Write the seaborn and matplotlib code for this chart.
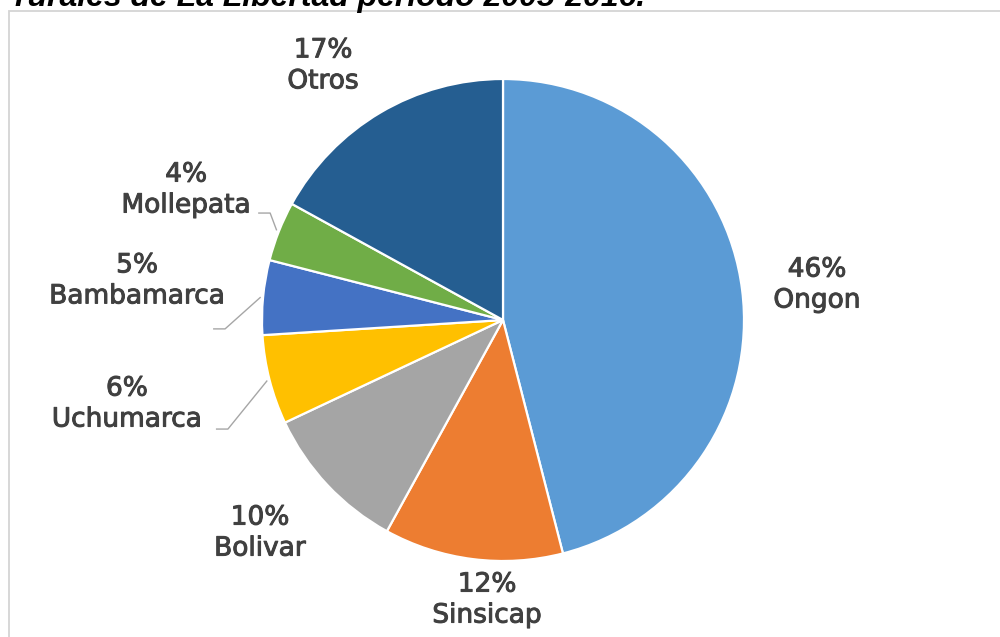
import numpy as np
import matplotlib
matplotlib.use("Agg")
import matplotlib.pyplot as plt
import matplotlib.patheffects as pe
from matplotlib.patches import Rectangle
import seaborn as sns

# Share of production by locality
categories = ["Ongon", "Sinsicap", "Bolivar", "Uchumarca", "Bambamarca", "Mollepata", "Otros"]
shares = [46, 12, 10, 6, 5, 4, 17]
colors = ["#5B9BD5", "#ED7D31", "#A5A5A5", "#FFC000", "#4472C4", "#70AD47", "#255E91"]
title_text = "rurales de La Libertad periodo 2005-2016."

# Label placement: distance from centre (radius units) and angular nudge (deg)
label_dist = [1.311, 1.164, 1.341, 1.599, 1.527, 1.421, 1.292]
label_nudge = [-0.85, 3.95, -1.95, -1.8, -0.7, -0.7, 4.7]
# Leader lines: elbow offset from label centre in pixels (dx, dy down)
leader_offsets = {"Uchumarca": (101, 25), "Bambamarca": (88, 48), "Mollepata": (84, 23)}

sns.set_theme(style="white")
plt.rcParams["font.family"] = ["DejaVu Sans"]

W, H, DPI = 1000, 637, 100
fig = plt.figure(figsize=(W / DPI, H / DPI), dpi=DPI)
fig.patch.set_facecolor("white")

# Frame around the chart area
fig.patches.append(Rectangle((9 / W, -0.05), 1.1, 1 - 11 / H + 0.05,
                             transform=fig.transFigure, fill=False,
                             edgecolor="#D4D4D4", linewidth=1.3, zorder=0))

ax = fig.add_axes([0, 0, 1, 1])
ax.set_facecolor("none")
ax.axis("off")

wedges, _ = ax.pie(shares, colors=colors, startangle=90, counterclock=False,
                   radius=1.0, wedgeprops=dict(edgecolor="white", linewidth=1.6))

# pixel scale: radius of 241 px, centre at (503, 320) from top-left
R = 241.0
cx, cy = 503.0, 320.0
ax.set_xlim(-cx / R, (W - cx) / R)
ax.set_ylim(-(H - cy) / R, cy / R)
ax.set_aspect("auto")

total = float(sum(shares))
start = 90.0
text_color = "#404040"
thicken = [pe.withStroke(linewidth=0.7, foreground=text_color)]
for i, (name, val) in enumerate(zip(categories, shares)):
    span = 360.0 * val / total
    mid = start - span / 2
    start -= span
    ang = np.deg2rad(mid + label_nudge[i])
    tx, ty = label_dist[i] * np.cos(ang), label_dist[i] * np.sin(ang)
    ax.text(tx, ty, f"{val}%\n{name}", ha="center", va="center",
            fontsize=19, color=text_color, linespacing=1.25,
            path_effects=thicken)
    if name in leader_offsets:
        dx, dy = leader_offsets[name]
        ex, ey = tx + dx / R, ty - dy / R
        m = np.deg2rad(mid)
        px, py = np.cos(m) * 1.01, np.sin(m) * 1.01
        ax.plot([ex - 12 / R, ex, px], [ey, ey, py], color="#A6A6A6",
                linewidth=1.0, solid_capstyle="butt", zorder=0.5)

fig.text(15 / W, 1 - 6 / H, title_text, ha="left", va="baseline",
         fontsize=23, fontweight="bold", fontstyle="italic",
         family=["Liberation Sans", "DejaVu Sans"], color="black")

fig.savefig("out.png", dpi=DPI, facecolor="white")
